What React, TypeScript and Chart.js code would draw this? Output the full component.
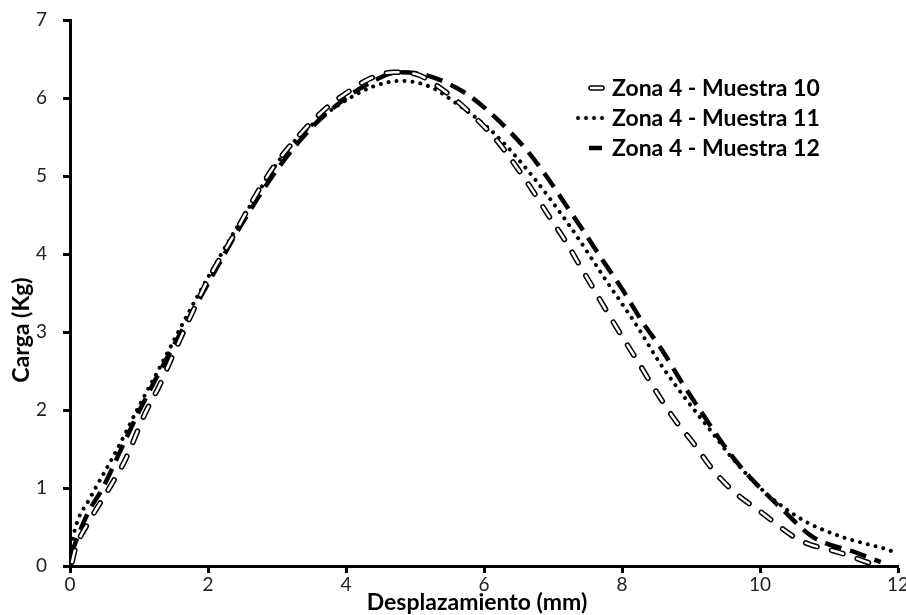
import React, { useEffect, useRef } from "react";
import { Chart, registerables } from "chart.js";

Chart.register(...registerables);

// ---- data ----
const seriesLabels = ["Zona 4 - Muestra 10", "Zona 4 - Muestra 11", "Zona 4 - Muestra 12"];
const xTicks = [0, 2, 4, 6, 8, 10, 12];
const yTicks = [0, 1, 2, 3, 4, 5, 6, 7];
const xTitle = "Desplazamiento (mm)";
const yTitle = "Carga (Kg)";

const m10X = [0.03, 0.07, 0.29, 0.55, 0.8, 1.09, 1.3, 1.48, 1.81, 2.0, 2.36, 2.71, 2.97, 3.3, 3.7, 4.0, 4.35, 4.7, 5.0, 5.3, 5.75, 6.2, 6.42, 6.67, 6.93, 7.17, 7.43, 7.94, 8.23, 8.5, 8.77, 9.03, 9.32, 9.6, 10.03, 10.58, 11.16, 11.55, 11.7];
const m10Y = [0.05, 0.2, 0.59, 0.97, 1.36, 1.96, 2.32, 2.68, 3.32, 3.67, 4.22, 4.78, 5.14, 5.5, 5.86, 6.06, 6.25, 6.33, 6.31, 6.17, 5.85, 5.44, 5.18, 4.86, 4.5, 4.18, 3.79, 3.03, 2.62, 2.23, 1.87, 1.58, 1.23, 0.97, 0.68, 0.33, 0.17, 0.05, 0.0];

const m11X = [0.02, 0.08, 0.29, 0.68, 1.0, 1.28, 1.6, 1.88, 2.46, 3.14, 3.5, 4.0, 4.4, 4.8, 5.2, 5.6, 6.13, 6.71, 7.25, 7.8, 8.2, 8.55, 8.9, 9.3, 9.6, 10.04, 10.62, 11.2, 11.6, 11.88, 12.0];
const m11Y = [0.25, 0.5, 0.87, 1.49, 2.05, 2.51, 3.05, 3.51, 4.4, 5.33, 5.65, 5.97, 6.15, 6.22, 6.15, 5.93, 5.56, 4.99, 4.35, 3.62, 3.1, 2.6, 2.17, 1.72, 1.38, 0.97, 0.59, 0.37, 0.27, 0.2, 0.15];

const m12X = [0.02, 0.1, 0.26, 0.48, 0.82, 1.01, 1.5, 2.0, 2.5, 3.0, 3.5, 4.0, 4.4, 4.75, 5.17, 5.7, 6.09, 6.62, 6.91, 7.17, 7.43, 7.72, 8.01, 8.28, 8.58, 8.87, 9.16, 9.45, 9.76, 10.33, 10.77, 11.4, 11.75];
const m12Y = [0.15, 0.35, 0.68, 1.01, 1.65, 2.0, 2.82, 3.62, 4.4, 5.08, 5.62, 6.0, 6.22, 6.33, 6.29, 6.08, 5.81, 5.33, 4.99, 4.65, 4.31, 3.92, 3.54, 3.15, 2.77, 2.35, 1.96, 1.58, 1.23, 0.72, 0.37, 0.17, 0.05];

const toPoints = (xs: number[], ys: number[]) => xs.map((x, i) => ({ x, y: ys[i] }));

const FONT = "Lato, 'Open Sans', sans-serif";

const overlayPlugin = {
  id: "overlay",
  afterDraw(chart: any) {
    const ctx: CanvasRenderingContext2D = chart.ctx;
    const a = chart.chartArea;
    ctx.save();
    // legend
    const textX = a.left + 542;
    const baseY = a.top + 76;
    ctx.font = `bold 23px ${FONT}`;
    ctx.fillStyle = "#000";
    ctx.textBaseline = "alphabetic";
    ctx.textAlign = "left";
    seriesLabels.forEach((t, i) => ctx.fillText(t, textX, baseY + i * 30));
    const symRight = textX - 10;
    // row 0: hollow dash
    let yy = baseY - 8;
    ctx.lineCap = "round";
    ctx.strokeStyle = "#000";
    ctx.lineWidth = 5.5;
    ctx.beginPath(); ctx.moveTo(symRight - 11, yy); ctx.lineTo(symRight, yy); ctx.stroke();
    ctx.strokeStyle = "#fff";
    ctx.lineWidth = 2.5;
    ctx.beginPath(); ctx.moveTo(symRight - 11, yy); ctx.lineTo(symRight, yy); ctx.stroke();
    // row 1: dots
    yy = baseY + 30 - 8;
    ctx.fillStyle = "#000";
    for (let k = 0; k < 4; k++) {
      ctx.beginPath(); ctx.arc(symRight - 24 + k * 8, yy, 2, 0, Math.PI * 2); ctx.fill();
    }
    // row 2: long dash
    yy = baseY + 60 - 8;
    ctx.lineCap = "butt";
    ctx.strokeStyle = "#000";
    ctx.lineWidth = 4.5;
    ctx.beginPath(); ctx.moveTo(symRight - 13, yy); ctx.lineTo(symRight, yy); ctx.stroke();

    // axis titles
    ctx.fillStyle = "#000";
    ctx.font = `bold 23px ${FONT}`;
    ctx.textAlign = "center";
    ctx.textBaseline = "alphabetic";
    ctx.fillText(xTitle, (a.left + a.right) / 2 - 7, a.bottom + 44);
    ctx.translate(29, (a.top + a.bottom) / 2 + 37);
    ctx.rotate(-Math.PI / 2);
    ctx.fillText(yTitle, 0, 0);
    ctx.restore();
  },
};

export default function App() {
  const ref = useRef<HTMLCanvasElement | null>(null);
  useEffect(() => {
    if (!ref.current) return;
    const tickFont = { family: FONT, size: 19 };
    const chart = new Chart(ref.current, {
      type: "line",
      data: {
        datasets: [
          {
            label: seriesLabels[0] + " (inner)",
            data: toPoints(m10X, m10Y),
            borderColor: "#fff",
            borderWidth: 2.5,
            borderDash: [12, 15],
            borderCapStyle: "round",
            pointRadius: 0,
            fill: false,
            cubicInterpolationMode: "monotone",
          },
          {
            label: seriesLabels[0],
            data: toPoints(m10X, m10Y),
            borderColor: "#000",
            borderWidth: 5.5,
            borderDash: [12, 15],
            borderCapStyle: "round",
            pointRadius: 0,
            fill: false,
            cubicInterpolationMode: "monotone",
          },
          {
            label: seriesLabels[1],
            data: toPoints(m11X, m11Y),
            borderColor: "#000",
            borderWidth: 4,
            borderDash: [0.01, 8],
            borderCapStyle: "round",
            pointRadius: 0,
            fill: false,
            cubicInterpolationMode: "monotone",
          },
          {
            label: seriesLabels[2],
            data: toPoints(m12X, m12Y),
            borderColor: "#000",
            borderWidth: 4.5,
            borderDash: [17, 9],
            borderCapStyle: "butt",
            pointRadius: 0,
            fill: false,
            cubicInterpolationMode: "monotone",
          },
        ] as any,
      },
      options: {
        animation: false,
        responsive: false,
        layout: { padding: { top: 20, right: 8, left: 0, bottom: 0 } },
        plugins: { legend: { display: false }, tooltip: { enabled: false } },
        scales: {
          x: {
            type: "linear",
            min: 0,
            max: 12,
            afterBuildTicks: (s: any) => { s.ticks = xTicks.map((v) => ({ value: v })); },
            afterFit: (s: any) => { s.height = 49; s.paddingLeft = 0; s.paddingRight = 0; },
            grid: { drawOnChartArea: false, drawTicks: true, tickLength: 7, tickWidth: 3, tickColor: "#000" },
            border: { display: true, color: "#000", width: 3 },
            ticks: { font: tickFont, color: "#222", padding: 0, maxRotation: 0, autoSkip: false },
          },
          y: {
            type: "linear",
            min: 0,
            max: 7,
            afterBuildTicks: (s: any) => { s.ticks = yTicks.map((v) => ({ value: v })); },
            afterFit: (s: any) => { s.width = 70; s.paddingTop = 0; s.paddingBottom = 0; },
            grid: { drawOnChartArea: false, drawTicks: true, tickLength: 7, tickWidth: 3, tickColor: "#000" },
            border: { display: true, color: "#000", width: 3 },
            ticks: { font: tickFont, color: "#222", padding: 16, autoSkip: false },
          },
        },
      } as any,
      plugins: [overlayPlugin],
    });
    return () => chart.destroy();
  }, []);
  return (
    <div style={{ position: "absolute", left: 0, top: 0, width: 906, height: 615, background: "#fff" }}>
      <canvas ref={ref} width={906} height={615} style={{ display: "block" }} />
    </div>
  );
}
